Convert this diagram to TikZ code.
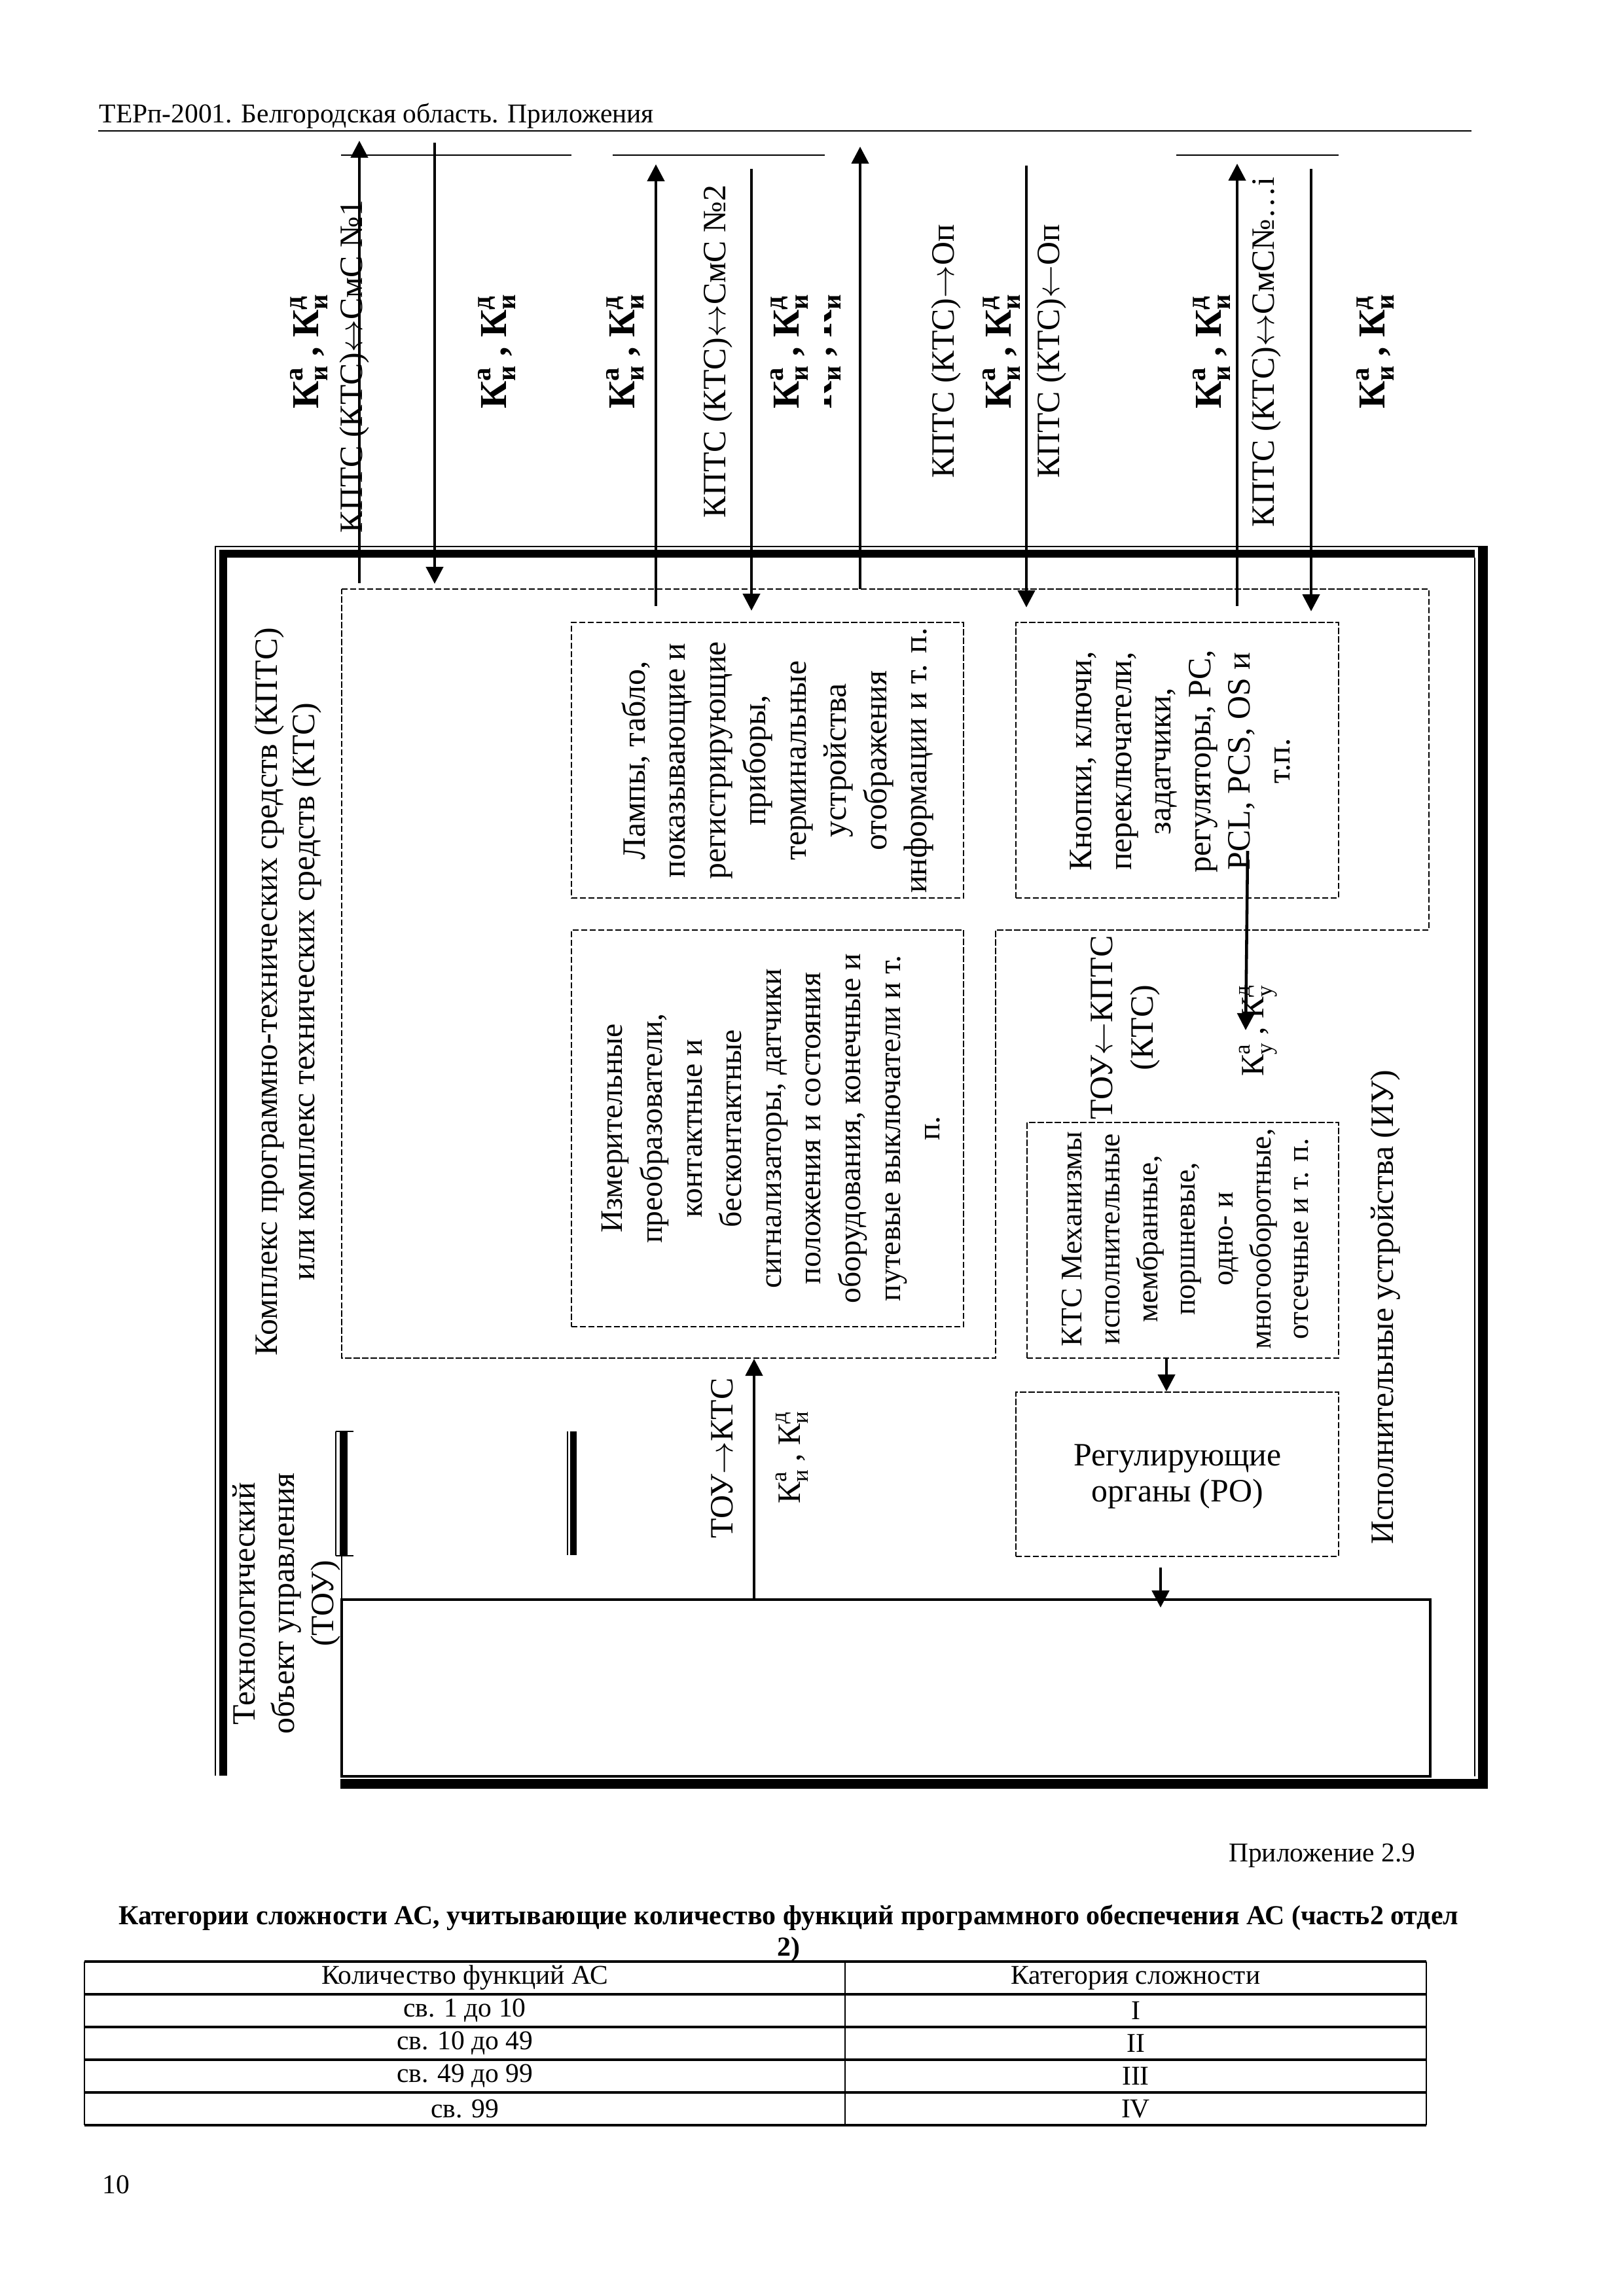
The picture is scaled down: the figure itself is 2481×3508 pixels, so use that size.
\documentclass[tikz,border=0pt]{standalone}
\usepackage{fontspec}
\setmainfont{Liberation Serif}
\usetikzlibrary{arrows.meta,fit,calc}
\tikzset{dbox/.style={draw,dash pattern=on 0.8mm off 0.3mm,line width=0.5pt,inner sep=0pt},
 sbox/.style={draw,line width=0.9pt,inner sep=0pt},
 arr/.style={-{Triangle[length=2.2mm,width=2.2mm]},line width=1.1pt},
 txt/.style={align=center,inner sep=0pt,font=\fontsize{12}{14.6}\selectfont},
 vtxt/.style={txt,rotate=90},
 kbold/.style={rotate=90,inner sep=0pt,font=\fontsize{14}{16}\selectfont\bfseries},
 small/.style={inner sep=0pt,font=\fontsize{10}{12}\selectfont}}
\newcommand{\Kx}[2]{К\rlap{\raisebox{0.9ex}{\scalebox{0.7}{#1}}}\raisebox{-0.55ex}{\scalebox{0.7}{#2}}}
\newcommand{\lra}{$\leftrightarrow$}
\newcommand{\ra}{$\rightarrow$}
\newcommand{\la}{$\leftarrow$}

\begin{document}
\begin{tikzpicture}[x=0.08467mm,y=-0.08467mm]
\useasboundingbox (0,0) rectangle (2481,3508);
% header
\node[small,anchor=base west](head)at(151,187){ТЕРп-2001. Белгородская область. Приложения};
\draw[line width=0.6pt](150,200)--(2248,200);
% frame
\draw[line width=0.7pt](329,2713)--(329,835)--(2273,835);
\draw[line width=3pt](341,2713)--(341,846)--(2253,846);
\draw[line width=0.7pt](2253,852)--(2253,2714);
\draw[line width=3.6pt](2265,835)--(2265,2733);
\draw[line width=3.6pt](520,2725)--(2273,2725);
\foreach\a/\b in{521/873,936/1260,1797/2045}\draw[line width=0.6pt](\a,237)--(\b,237);
% KPTS region
\draw[dbox](522,900)--(2183,900)--(2183,1421)--(1521,1421)--(1521,2075)--(522,2075)--cycle;
\node[vtxt,font=\fontsize{12}{13.5}\selectfont](kpts)at(440,1515){Комплекс программно-технических средств (КПТС)\\или комплекс технических средств (КТС)};
% boxes
\node[dbox,fit={(873,951)(1472,1372)}](lamps){};
\node[dbox,fit={(1552,951)(2045,1372)}](btns){};
\node[dbox,fit={(873,1421)(1472,2027)}](meas){};
\node[dbox,fit={(1569,1715)(2045,2075)}](mech){};
\node[dbox,fit={(1552,2127)(2045,2378)}](ro){};
\node[sbox,fit={(522,2444)(2185,2714)}](tou){};
\node[vtxt,font=\fontsize{12}{14.8}\selectfont](lampst)at(1188,1162){Лампы, табло,\\показывающие и\\регистрирующие\\приборы,\\терминальные\\устройства\\отображения\\информации и т. п.};
\node[vtxt](btnst)at(1803,1163){Кнопки, ключи,\\переключатели,\\задатчики,\\регуляторы, PC,\\PCL, PCS, OS и\\т.п.};
\node[vtxt,font=\fontsize{11.5}{14.6}\selectfont](meast)at(1178,1724){Измерительные\\преобразователи,\\контактные и\\бесконтактные\\сигнализаторы, датчики\\положения и состояния\\оборудования, конечные и\\путевые выключатели и т.\\п.};
\node[vtxt,font=\fontsize{11}{13.9}\selectfont](mecht)at(1811,1893){КТС Механизмы\\исполнительные\\мембранные,\\поршневые,\\одно- и\\многооборотные,\\отсечные и т. п.};
\node[txt,font=\fontsize{12}{13.2}\selectfont](rot)at(1799,2256){Регулирующие\\органы (РО)};
\node[vtxt,font=\fontsize{12}{14.5}\selectfont](tout)at(438,2450){Технологический\\объект управления\\(ТОУ)};
\node[vtxt](iu)at(2117,1997){Исполнительные устройства (ИУ)};
\node[vtxt,font=\fontsize{12}{15}\selectfont](ctl)at(1719,1570){ТОУ\la КПТС\\(КТС)};
\node[vtxt](ky)at(1922,1575){\Kx{а}{у} , \Kx{д}{у}};
\node[vtxt](meas1)at(1103,2228){ТОУ\ra КТС};
\node[vtxt](meas2)at(1210,2227){\Kx{а}{и} , \Kx{д}{и}};
% bars at the object
\draw[line width=0.7pt](513,2187)--(513,2377)(513,2187)--(540,2187)(513,2377)--(540,2377)(522,2377)--(522,2444);
\draw[line width=3pt](525,2187)--(525,2377);
\draw[line width=0.7pt](867,2187)--(867,2376);
\draw[line width=2.5pt](876,2187)--(876,2376);
% top labels
\foreach\x[count=\i]in{472,759,955,1206,1530,1851,2101}\node[kbold](kb\i)at(\x,537){\Kx{а}{и} , \Kx{д}{и}};
\begin{scope}
\clip(1259,300)rectangle(1320,800);
\node[kbold](kbc)at(1256,537){\Kx{а}{и} , \Kx{д}{и}};
\end{scope}
\node[vtxt](l1)at(542,560){КПТС (КТС)\lra СмС №1};
\node[vtxt](l2)at(1097,537){КПТС (КТС)\lra СмС №2};
\node[vtxt](l3)at(1446,537){КПТС (КТС)\ra Оп};
\node[vtxt](l4)at(1607,537){КПТС (КТС)\la Оп};
\node[vtxt](l5)at(1934,538){КПТС (КТС)\lra СмС№…i};
% arrows
\foreach\x/\ya/\yb[count=\i]in{549/891/215,1002/926/251,1314/900/224,1890/926/250}{
 \coordinate(us\i)at(\x,\ya);\coordinate(ue\i)at(\x,\yb);\draw[arr](us\i)--(ue\i);}
\foreach\x/\ya/\yb[count=\i]in{664/218/892,1148/258/933,1568/253/928,2003/258/934}{
 \coordinate(ds\i)at(\x,\ya);\coordinate(de\i)at(\x,\yb);\draw[arr](ds\i)--(de\i);}
\coordinate(c1)at(1906,1300);\coordinate(c2)at(1903,1574);\draw[arr](c1)--(c2);
\coordinate(kptsb)at(1152,2076);\draw[arr](kptsb|-tou.north)--(kptsb);
\coordinate(mx)at(1782,0);\draw[arr](mx|-mech.south)--(mx|-ro.north);
\coordinate(rx)at(1773,0);\draw[arr]($(rx|-ro.south)+(0,16)$)--($(rx|-tou.north)+(0,14)$);
% appendix and table
\node[small,anchor=base east](app)at(2163,2844){Приложение 2.9};
\node[small,align=center,font=\fontsize{10.1}{11.6}\selectfont\bfseries](title)at(1205,2954){Категории сложности АС, учитывающие количество функций программного обеспечения АС (часть2 отдел\\2)};
\foreach\y in{2997,3047,...,3247}\draw[line width=0.9pt](129,\y)--(2179,\y);
\foreach\x in{129,1291,2179}\draw[line width=0.5pt](\x,2997)--(\x,3247);
\foreach\a/\b[count=\i]in{Количество функций АС/Категория сложности,св. 1 до 10/I,св. 10 до 49/II,св. 49 до 99/III,св. 99/IV}{
 \node[small](ta\i)at(710,2972+50*\i){\a};\node[small](tb\i)at(1735,2972+50*\i){\b};}
\node[small](pnum)at(177,3338){10};
\end{tikzpicture}
\end{document}
